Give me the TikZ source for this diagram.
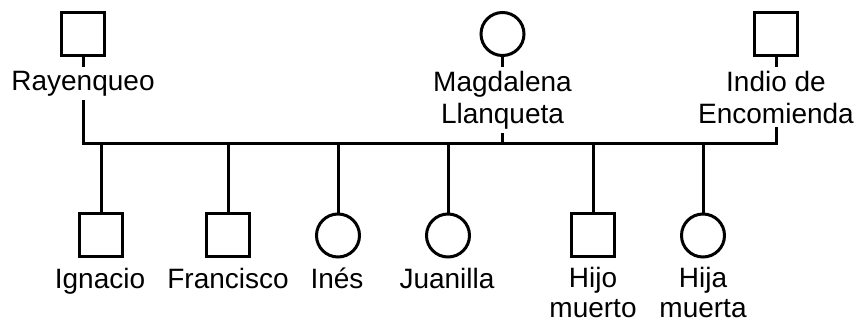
\documentclass[tikz,border=0pt]{standalone}
\usepackage{fontspec}
\setmainfont{Liberation Sans}
\usetikzlibrary{backgrounds}
\begin{document}
\begin{tikzpicture}[x=1pt,y=-1pt,
  male/.style={draw,line width=3pt,rectangle,minimum size=43pt,inner sep=0pt},
  female/.style={draw,line width=3pt,circle,minimum size=43pt,inner sep=0pt},
  lbl/.style={font=\fontsize{28}{32}\selectfont,align=center,inner sep=0pt,anchor=base},
  clbl/.style={lbl,font=\fontsize{28}{30}\selectfont},
  plbl/.style={lbl,fill=white,inner ysep=4pt,inner xsep=2pt},
  link/.style={line width=3pt}]
\useasboundingbox (0,0) rectangle (854,324);
% parents
\node[male] (ray) at (83,33.5) {};
\node[female] (mag) at (502.5,34) {};
\node[male] (ind) at (776,33.5) {};
\node[plbl] (rayL) at (83,90) {Rayenqueo};
\node[plbl] (magL) at (502.5,123) {Magdalena\\Llanqueta};
\node[plbl] (indL) at (776,123) {Indio de\\Encomienda};
\coordinate (busL) at (83,143);
\coordinate (busM) at (502.5,143);
\coordinate (busR) at (776,143);
% children
\node[male] (c1) at (101,235) {};
\node[male] (c2) at (228,235) {};
\node[female] (c3) at (338,235.5) {};
\node[female] (c4) at (448,235.5) {};
\node[male] (c5) at (593,235) {};
\node[female] (c6) at (703,235.5) {};
\node[clbl] (c1L) at (100,288) {Ignacio};
\node[clbl] (c2L) at (228,288) {Francisco};
\node[clbl] (c3L) at (337,288) {Inés};
\node[clbl] (c4L) at (447,288) {Juanilla};
\node[clbl] (c5L) at (593,317) {Hijo\\muerto};
\node[clbl] (c6L) at (703,317) {Hija\\muerta};
\begin{pgfonlayer}{background}
\draw[link] (ray.south) -- (busL) -- (busR) -- (ind.south);
\draw[link] (mag.south) -- (busM);
\foreach \c in {c1,c2,c3,c4,c5,c6}{\draw[link] (\c |- busL) -- (\c.north);}
\end{pgfonlayer}
\end{tikzpicture}
\end{document}
